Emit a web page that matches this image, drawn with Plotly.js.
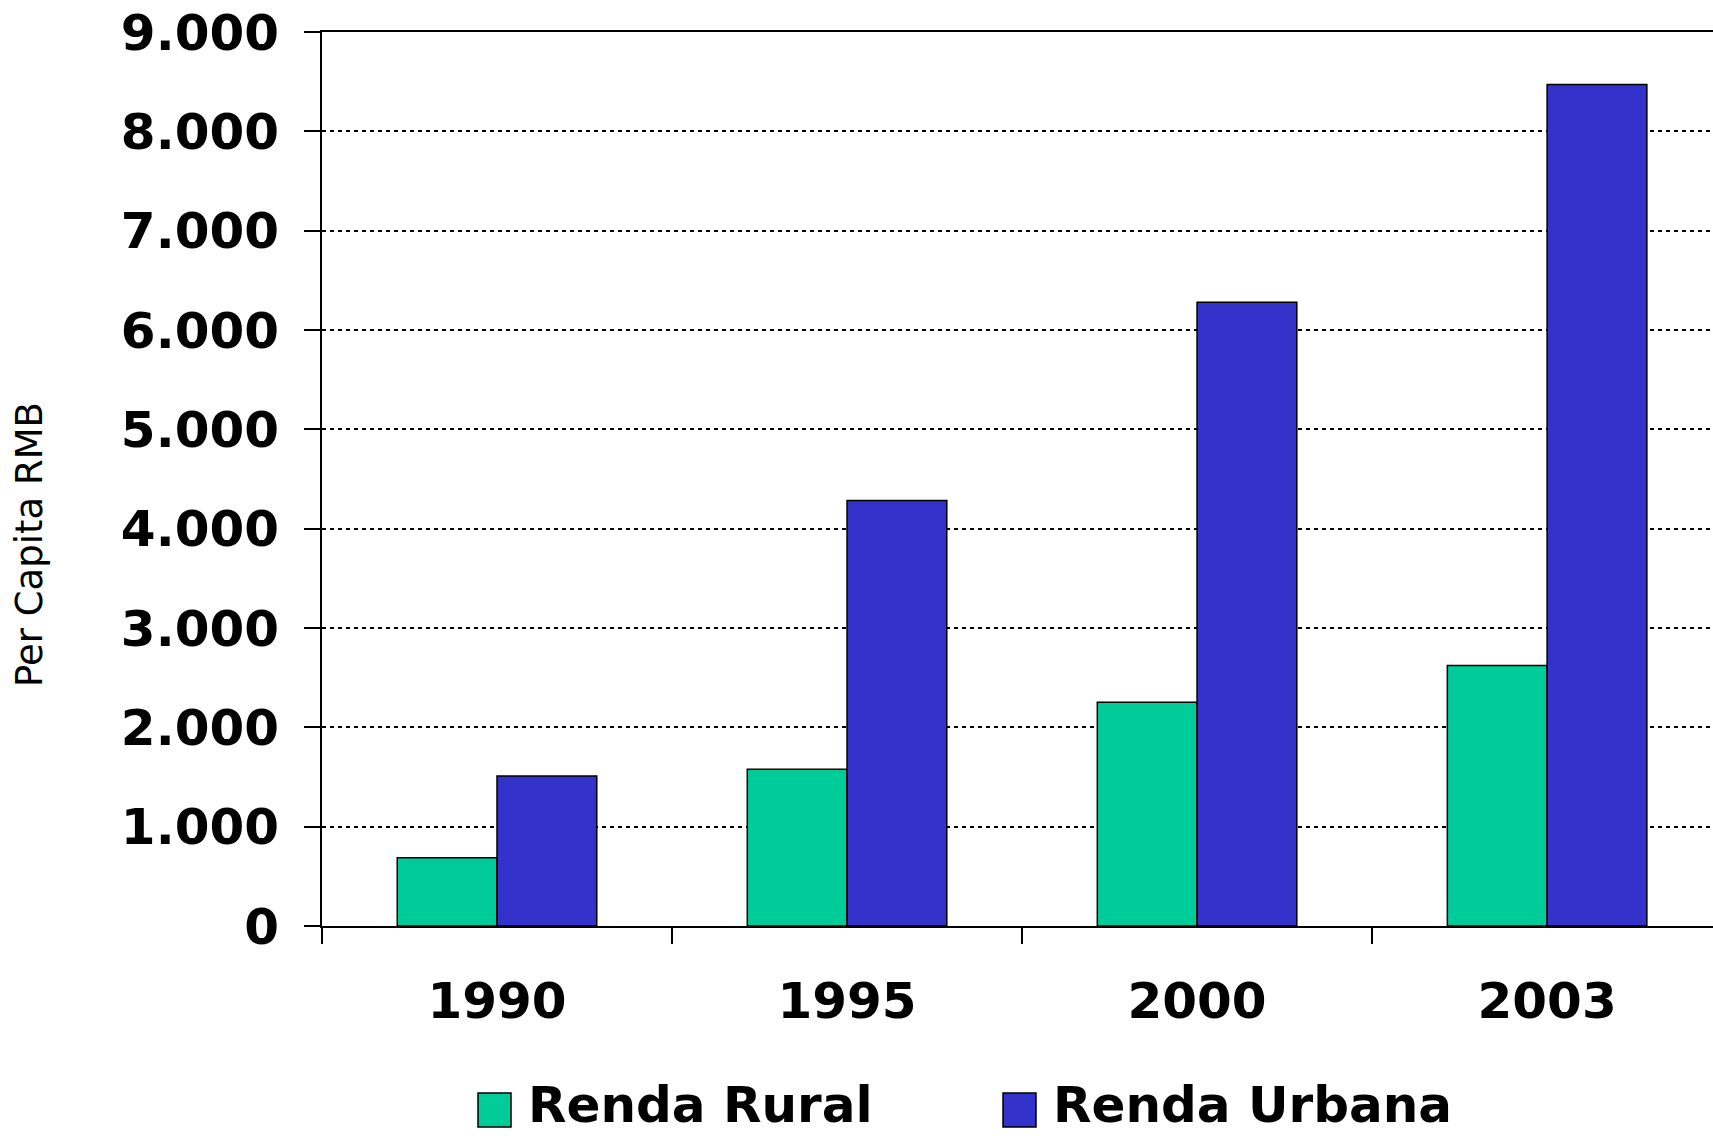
<!DOCTYPE html>
<html>
<head>
<meta charset="utf-8">
<script src="https://cdn.plot.ly/plotly-3.0.1.min.js"></script>
<style>html,body{margin:0;padding:0;background:#fff;}</style>
</head>
<body>
<div id="chart" style="width:1713px;height:1136px;"></div>
<script>
const years = ['1990', '1995', '2000', '2003'];
const rural = [686, 1578, 2253, 2622];
const urban = [1510, 4283, 6280, 8472];
const seriesNames = ['Renda Rural', 'Renda Urbana'];
const seriesColors = ['#00CC99', '#3333CC'];
const yTitle = 'Per Capita RMB';

const W = 1713, H = 1136;
const M = {l: 322, r: 0, t: 32, b: 210};
const pw = W - M.l - M.r, ph = H - M.t - M.b;
const px = x => (x - M.l) / pw;
const py = y => (H - M.b - y) / ph;

const boldFont = {family: 'DejaVu Sans', size: 50, color: '#000', weight: 'bold'};

const traces = [rural, urban].map((vals, i) => ({
  type: 'bar',
  name: seriesNames[i],
  x: years,
  y: vals,
  marker: {color: seriesColors[i], line: {color: '#000', width: 1.5}},
  hoverinfo: 'x+y'
}));

// custom legend
const legendX = [478, 1003];
const shapes = [], annotations = [];
seriesNames.forEach((n, i) => {
  shapes.push({type: 'rect', xref: 'paper', yref: 'paper',
    x0: px(legendX[i]), x1: px(legendX[i] + 33), y0: py(1093), y1: py(1127),
    fillcolor: seriesColors[i], line: {color: '#000', width: 1.5}});
  annotations.push({xref: 'paper', yref: 'paper', x: px(legendX[i] + 48), y: py(1105),
    xanchor: 'left', yanchor: 'middle', text: n, showarrow: false, font: boldFont});
});

// y-axis title
annotations.push({xref: 'paper', yref: 'paper', x: px(29), y: py(545),
  xanchor: 'center', yanchor: 'middle', textangle: -90, text: yTitle, showarrow: false,
  font: {family: 'DejaVu Sans', size: 37, color: '#000'}});

const layout = {
  width: W, height: H,
  margin: M,
  paper_bgcolor: '#fff', plot_bgcolor: '#fff',
  separators: ',.',
  showlegend: false,
  bargap: 0.43, bargroupgap: 0,
  barmode: 'group',
  xaxis: {
    type: 'category', range: [-0.5, 3.474],
    ticks: 'outside', tickson: 'boundaries', ticklen: 16, tickwidth: 2, tickcolor: '#000',
    showline: true, linecolor: '#000', linewidth: 2, mirror: true,
    showgrid: false, tickfont: boldFont, ticklabelstandoff: 30
  },
  yaxis: {
    range: [0, 9000], dtick: 1000, tickformat: ',d',
    ticks: 'outside', ticklen: 16, tickwidth: 2, tickcolor: '#000',
    showline: true, linecolor: '#000', linewidth: 2,
    showgrid: true, gridcolor: '#000', gridwidth: 2, griddash: '4px,4px',
    zeroline: false, tickfont: boldFont, ticklabelstandoff: 15
  },
  shapes: shapes,
  annotations: annotations
};

Plotly.newPlot('chart', traces, layout, {displayModeBar: false, staticPlot: true});
</script>
</body>
</html>
